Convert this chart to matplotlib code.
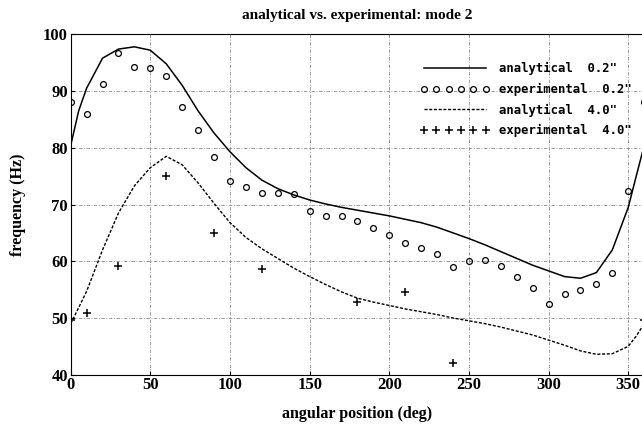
import matplotlib
matplotlib.use("Agg")
import matplotlib.pyplot as plt

# analytical 0.2" (solid)
ana02_deg = [0, 5, 10, 20, 30, 40, 50, 60, 70, 80, 90, 100, 110, 120, 130, 140, 150,
             160, 170, 180, 190, 200, 210, 220, 230, 240, 250, 260, 270, 280, 290,
             300, 310, 320, 330, 340, 350, 355, 360]
ana02_hz = [80.4, 86.5, 90.5, 95.8, 97.4, 97.8, 97.2, 94.8, 91.0, 86.5, 82.6, 79.3,
            76.5, 74.3, 72.8, 71.7, 70.8, 70.1, 69.5, 69.0, 68.5, 68.0, 67.4, 66.8,
            66.0, 65.0, 64.0, 62.9, 61.7, 60.5, 59.3, 58.3, 57.3, 57.0, 58.0, 62.0,
            69.5, 75.0, 80.4]

# experimental 0.2" (circles)
exp02_deg = [0, 10, 20, 30, 40, 50, 60, 70, 80, 90, 100, 110, 120, 130, 140, 150, 160,
             170, 180, 190, 200, 210, 220, 230, 240, 250, 260, 270, 280, 290, 300,
             310, 320, 330, 340, 350, 360]
exp02_hz = [88.0, 86.0, 91.2, 96.7, 94.3, 94.0, 92.6, 87.2, 83.1, 78.3, 74.1, 73.1,
            72.1, 72.1, 71.8, 68.9, 67.9, 67.9, 67.1, 65.9, 64.7, 63.2, 62.4, 61.3,
            58.9, 60.0, 60.2, 59.1, 57.3, 55.3, 52.4, 54.2, 54.9, 56.0, 57.9, 72.4,
            88.0]

# analytical 4.0" (dashed)
ana40_deg = [0, 5, 10, 20, 30, 40, 50, 60, 70, 80, 90, 100, 110, 120, 130, 140, 150,
             160, 170, 180, 190, 200, 210, 220, 230, 240, 250, 260, 270, 280, 290,
             300, 310, 320, 330, 340, 350, 355, 360]
ana40_hz = [49.0, 51.8, 54.7, 62.0, 68.5, 73.3, 76.5, 78.5, 77.0, 73.8, 70.2, 66.8,
            64.2, 62.2, 60.5, 58.8, 57.3, 55.9, 54.6, 53.5, 52.8, 52.2, 51.6, 51.1,
            50.6, 50.0, 49.5, 49.0, 48.4, 47.7, 47.0, 46.1, 45.2, 44.2, 43.6, 43.7,
            45.0, 46.8, 49.0]

# experimental 4.0" (plus)
exp40_deg = [0, 10, 30, 60, 90, 120, 180, 210, 240, 360]
exp40_hz = [49.7, 50.8, 59.2, 75.1, 64.9, 58.6, 52.8, 54.5, 42.0, 49.7]

x_ticks = [0, 50, 100, 150, 200, 250, 300, 350]
y_ticks = [40, 50, 60, 70, 80, 90, 100]

plt.rcParams['font.family'] = ['Liberation Serif', 'DejaVu Serif']

fig = plt.figure(figsize=(6.42, 4.26), dpi=100)
ax = fig.add_axes([0.1101, 0.1204, 0.8933, 0.799])

ax.plot(ana02_deg, ana02_hz, color='black', lw=1.1, label='analytical  0.2"')
ax.plot(exp02_deg, exp02_hz, linestyle='none', marker='o', ms=4.2, mfc='none',
        mec='black', mew=0.9, label='experimental  0.2"')
ax.plot(ana40_deg, ana40_hz, color='black', lw=1.0, linestyle=(0, (2.2, 1.2)),
        label='analytical  4.0"')
ax.plot(exp40_deg, exp40_hz, linestyle='none', marker='+', ms=6, mew=1.1,
        color='black', label='experimental  4.0"')

ax.set_xlim(0, 360)
ax.set_ylim(40, 100)
ax.set_xticks(x_ticks)
ax.set_yticks(y_ticks)
ax.tick_params(direction='in', length=3, labelsize=12, pad=2)
for lbl in ax.get_xticklabels() + ax.get_yticklabels():
    lbl.set_fontweight('bold')
ax.grid(True, color='#888888', linestyle=(0, (4, 2, 1, 2)), lw=0.6)

ax.set_title('analytical vs. experimental: mode 2', fontsize=11, fontweight='bold', pad=11)
ax.set_xlabel('angular position (deg)', fontsize=11.5, fontweight='bold', labelpad=9)
ax.set_ylabel('frequency (Hz)', fontsize=11.5, fontweight='bold', labelpad=12)

leg = ax.legend(loc='upper right', bbox_to_anchor=(0.979, 0.918), frameon=False,
                borderaxespad=0, borderpad=0,
                numpoints=6, handlelength=5.7, handletextpad=0.8, labelspacing=0.62,
                prop={'family': 'DejaVu Sans Mono', 'weight': 'bold', 'size': 8.8})

fig.savefig('out.png', dpi=100)
